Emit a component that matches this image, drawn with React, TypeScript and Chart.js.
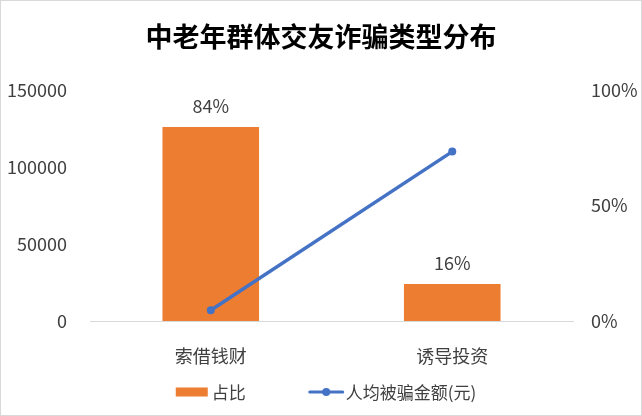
import { useEffect, useRef } from "react";
import { Chart, registerables } from "chart.js";

Chart.register(...registerables);

const chartTitle = "中老年群体交友诈骗类型分布";
const categories = ["索借钱财", "诱导投资"];
const shareLabel = "占比";
const shareValues = [84, 16];
const amountLabel = "人均被骗金额(元)";
const amountValues = [7000, 110000];
const leftTicks = [0, 50000, 100000, 150000];
const rightTicks = [0, 50, 100];

const FONT = '"Noto Sans CJK SC", "Microsoft YaHei", sans-serif';
const BAR_COLOR = "#ED7D31";
const LINE_COLOR = "#4472C4";
const TEXT_COLOR = "#404040";

const dataLabelPlugin = {
  id: "barValueLabels",
  afterDatasetsDraw(chart: any) {
    const ctx = chart.ctx;
    const meta = chart.getDatasetMeta(0);
    ctx.save();
    ctx.font = `18px ${FONT}`;
    ctx.fillStyle = TEXT_COLOR;
    ctx.textAlign = "center";
    ctx.textBaseline = "middle";
    meta.data.forEach((el: any, i: number) => {
      ctx.fillText(`${chart.data.datasets[0].data[i]}%`, el.x, el.y - 21);
    });
    ctx.restore();
  },
};

const legendPlugin = {
  id: "customLegend",
  afterDraw(chart: any) {
    const ctx = chart.ctx;
    const ds = chart.data.datasets;
    ctx.save();
    ctx.font = `17px ${FONT}`;
    ctx.textBaseline = "middle";
    ctx.textAlign = "left";
    const y = 391;
    const t0 = ctx.measureText(ds[0].label).width;
    const t1 = ctx.measureText(ds[1].label).width;
    const w0 = 32 + 4 + t0;
    const w1 = 35 + 2 + t1;
    const gap = 63;
    let x = (chart.width - (w0 + gap + w1)) / 2 + 5;
    ctx.fillStyle = ds[0].backgroundColor;
    ctx.fillRect(x, y - 4.5, 32, 9);
    ctx.fillStyle = TEXT_COLOR;
    ctx.fillText(ds[0].label, x + 36, y + 1);
    x += w0 + gap;
    ctx.strokeStyle = ds[1].borderColor;
    ctx.lineWidth = 3;
    ctx.lineCap = "round";
    ctx.beginPath();
    ctx.moveTo(x + 1, y);
    ctx.lineTo(x + 34, y);
    ctx.stroke();
    ctx.fillStyle = ds[1].borderColor;
    ctx.beginPath();
    ctx.arc(x + 17.5, y, 4, 0, Math.PI * 2);
    ctx.fill();
    ctx.fillStyle = TEXT_COLOR;
    ctx.fillText(ds[1].label, x + 37, y + 1);
    ctx.restore();
  },
};

export default function App() {
  const ref = useRef<HTMLCanvasElement | null>(null);

  useEffect(() => {
    document.body.style.margin = "0";
    if (!ref.current) return;
    const chart = new Chart(ref.current, {
      type: "bar",
      data: {
        labels: categories,
        datasets: [
          {
            type: "bar",
            label: shareLabel,
            data: shareValues,
            backgroundColor: BAR_COLOR,
            borderWidth: 0,
            yAxisID: "y1",
            barPercentage: 0.4,
            categoryPercentage: 1,
            order: 2,
          },
          {
            type: "line",
            label: amountLabel,
            data: amountValues,
            borderColor: LINE_COLOR,
            backgroundColor: LINE_COLOR,
            borderWidth: 3.5,
            pointRadius: 4,
            pointBackgroundColor: LINE_COLOR,
            pointBorderWidth: 0,
            yAxisID: "y",
            order: 1,
          } as any,
        ],
      },
      options: {
        responsive: false,
        animation: false,
        layout: { padding: 0 },
        plugins: {
          legend: { display: false },
          tooltip: { enabled: false },
          title: {
            display: true,
            text: chartTitle,
            color: "#000",
            font: { family: FONT, size: 27, weight: "bold" },
            padding: { top: 20, bottom: 36.6 },
          },
        },
        scales: {
          x: {
            offset: true,
            grid: { display: false, drawTicks: false },
            border: { display: true, color: "#d9d9d9", width: 1 },
            ticks: {
              color: TEXT_COLOR,
              font: { family: FONT, size: 18 },
              padding: 24,
            },
            afterFit(scale: any) {
              scale.height = 94;
            },
          },
          y: {
            position: "left",
            min: 0,
            max: 150000,
            grid: { display: false, drawTicks: false },
            border: { display: false },
            ticks: {
              color: TEXT_COLOR,
              font: { family: FONT, size: 18 },
              padding: 23,
              callback: (v: any) => `${v}`,
            },
            afterBuildTicks(scale: any) {
              scale.ticks = leftTicks.map((v) => ({ value: v }));
            },
            afterFit(scale: any) {
              scale.width = 89;
            },
          },
          y1: {
            position: "right",
            min: 0,
            max: 100,
            grid: { display: false, drawTicks: false },
            border: { display: false },
            ticks: {
              color: TEXT_COLOR,
              font: { family: FONT, size: 18 },
              padding: 18,
              callback: (v: any) => `${v}%`,
            },
            afterBuildTicks(scale: any) {
              scale.ticks = rightTicks.map((v) => ({ value: v }));
            },
            afterFit(scale: any) {
              scale.width = 68;
            },
          },
        },
      } as any,
      plugins: [dataLabelPlugin, legendPlugin],
    });
    return () => chart.destroy();
  }, []);

  return (
    <div
      style={{
        position: "fixed",
        left: 0,
        top: 0,
        width: 642,
        height: 416,
        boxSizing: "border-box",
        border: "1px solid #d9d9d9",
        background: "#fff",
      }}
    >
      <canvas ref={ref} width={640} height={414} style={{ display: "block", width: 640, height: 414 }} />
    </div>
  );
}
